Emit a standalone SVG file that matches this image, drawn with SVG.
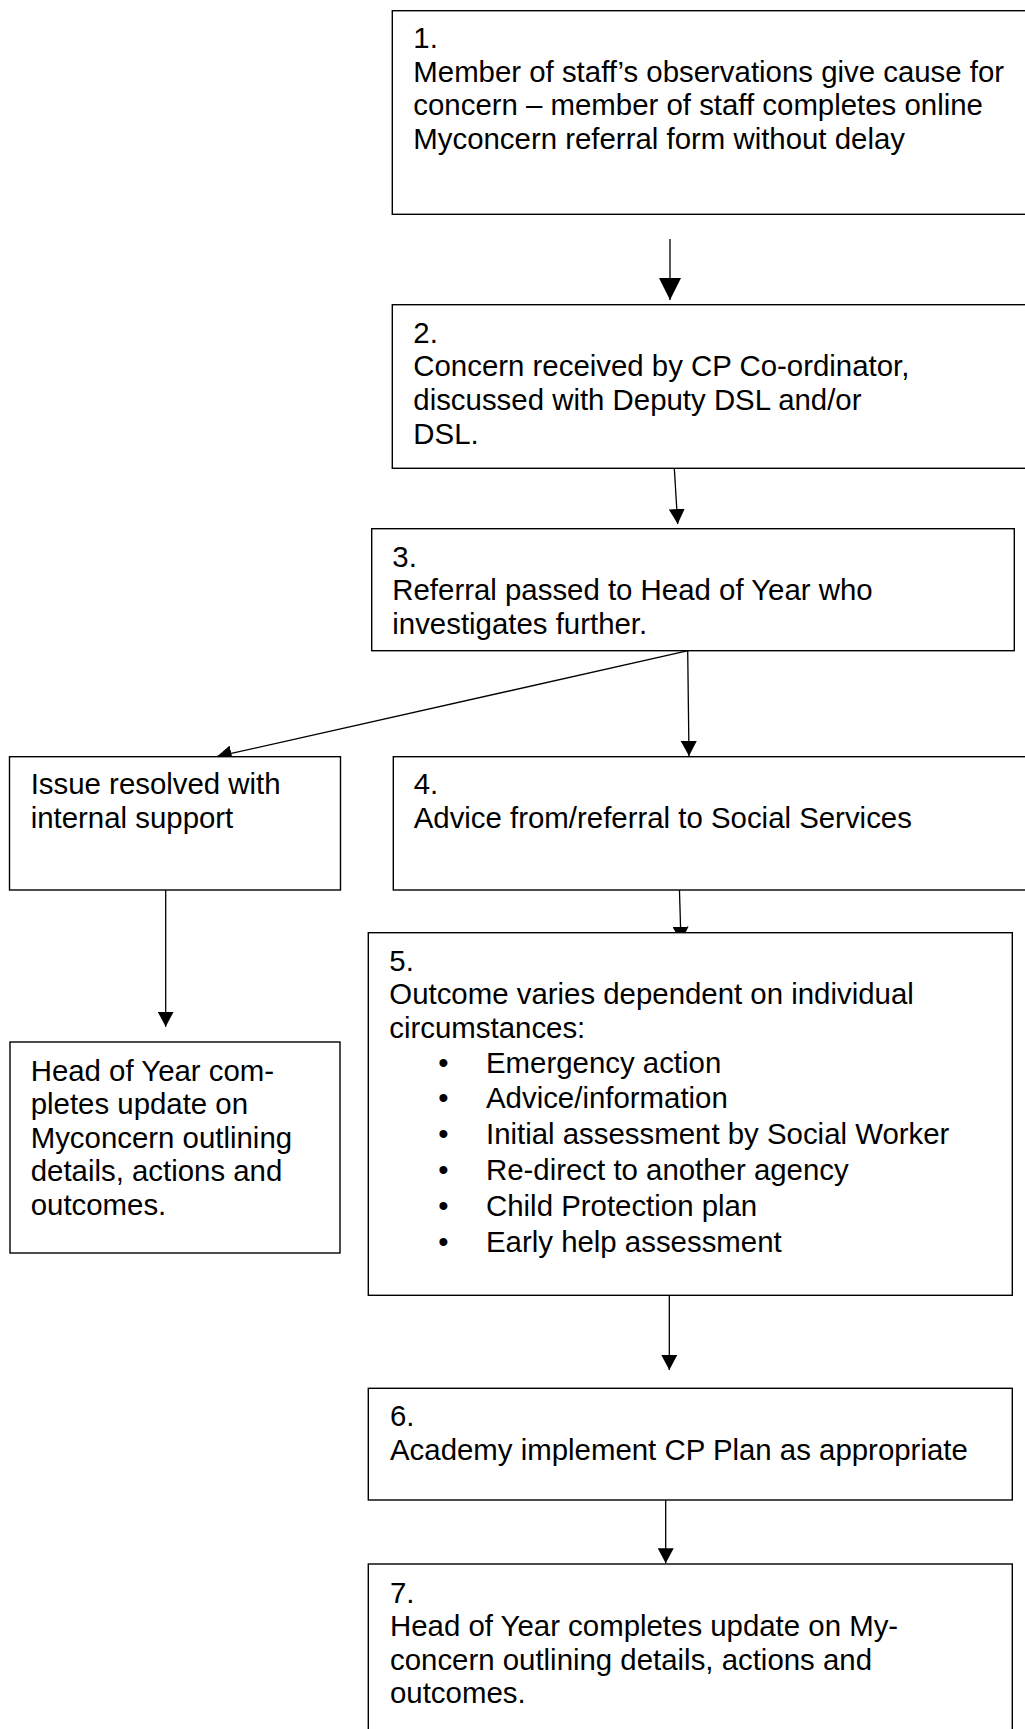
<svg xmlns="http://www.w3.org/2000/svg" width="1025" height="1729" viewBox="0 0 1025 1729">
<style>
  .box { fill: #fff; stroke: #000; stroke-width: 1.4; }
  .lbl { font-family: "Liberation Sans", Arial, sans-serif; font-size: 29.4px; fill: #000; }
  .con { stroke: #000; stroke-width: 1.3; fill: none; }
</style>
<defs>
  <marker id="ah" viewBox="0 0 15 16" refX="15" refY="8" markerWidth="15" markerHeight="16" markerUnits="userSpaceOnUse" orient="auto">
    <path d="M0,0 L15,8 L0,16 Z" fill="#000"/>
  </marker>
  <marker id="ahBig" viewBox="0 0 22 22" refX="22" refY="11" markerWidth="22" markerHeight="22" markerUnits="userSpaceOnUse" orient="auto">
    <path d="M0,0 L22,11 L0,22 Z" fill="#000"/>
  </marker>
</defs>
<rect width="1025" height="1729" fill="#fff"/>

<g id="connectors">
  <line class="con" x1="670" y1="239" x2="670" y2="300" stroke-width="1.7" marker-end="url(#ahBig)"/>
  <line class="con" x1="674.3" y1="468.3" x2="677.7" y2="524" marker-end="url(#ah)"/>
  <line class="con" x1="688.3" y1="650.7" x2="216.7" y2="756.7" marker-end="url(#ah)"/>
  <line class="con" x1="687.7" y1="650.7" x2="689" y2="756" marker-end="url(#ah)"/>
  <line class="con" x1="165.7" y1="890" x2="165.7" y2="1026.7" marker-end="url(#ah)"/>
  <line class="con" x1="679.3" y1="885" x2="681" y2="941.7" marker-end="url(#ah)"/>
  <line class="con" x1="669.3" y1="1291.7" x2="669.3" y2="1370" marker-end="url(#ah)"/>
  <line class="con" x1="665.7" y1="1500" x2="665.7" y2="1563.3" marker-end="url(#ah)"/>
</g>

<g id="node1">
  <rect class="box" x="392.3" y="10.7" width="650" height="203.6"/>
  <text class="lbl" x="413.3" y="48">1.</text>
  <text class="lbl" x="413.3" y="81.6">Member of staff’s observations give cause for</text>
  <text class="lbl" x="413.3" y="115.2">concern – member of staff completes online</text>
  <text class="lbl" x="413.3" y="148.8">Myconcern referral form without delay</text>
</g>

<g id="node2">
  <rect class="box" x="392.3" y="304.7" width="650" height="163.6"/>
  <text class="lbl" x="413.3" y="342.7">2.</text>
  <text class="lbl" x="413.3" y="376.3">Concern received by CP Co-ordinator,</text>
  <text class="lbl" x="413.3" y="409.9">discussed with Deputy DSL and/or</text>
  <text class="lbl" x="413.3" y="443.5">DSL.</text>
</g>

<g id="node3">
  <rect class="box" x="371.7" y="528.7" width="642.6" height="122"/>
  <text class="lbl" x="392.3" y="566.5">3.</text>
  <text class="lbl" x="392.3" y="600">Referral passed to Head of Year who</text>
  <text class="lbl" x="392.3" y="633.5">investigates further.</text>
</g>

<g id="nodeInternal">
  <rect class="box" x="9.5" y="756.7" width="331" height="133.3"/>
  <text class="lbl" x="30.7" y="794">Issue resolved with</text>
  <text class="lbl" x="30.7" y="827.6">internal support</text>
</g>

<g id="node4">
  <rect class="box" x="393.3" y="756.7" width="650" height="133.3"/>
  <text class="lbl" x="413.7" y="794">4.</text>
  <text class="lbl" x="413.7" y="827.6">Advice from/referral to Social Services</text>
</g>

<g id="nodeHoY">
  <rect class="box" x="10" y="1042" width="330" height="211"/>
  <text class="lbl" x="30.7" y="1080.5">Head of Year com-</text>
  <text class="lbl" x="30.7" y="1114.1">pletes update on</text>
  <text class="lbl" x="30.7" y="1147.7">Myconcern outlining</text>
  <text class="lbl" x="30.7" y="1181.3">details, actions and</text>
  <text class="lbl" x="30.7" y="1214.9">outcomes.</text>
</g>

<g id="node5">
  <rect class="box" x="368.3" y="932.7" width="644" height="362.6"/>
  <text class="lbl" x="389.3" y="970.5">5.</text>
  <text class="lbl" x="389.3" y="1004">Outcome varies dependent on individual</text>
  <text class="lbl" x="389.3" y="1037.5">circumstances:</text>
  <text class="lbl" x="443.3" y="1072.5" text-anchor="middle">•</text>
  <text class="lbl" x="486" y="1072.5">Emergency action</text>
  <text class="lbl" x="443.3" y="1108.3" text-anchor="middle">•</text>
  <text class="lbl" x="486" y="1108.3">Advice/information</text>
  <text class="lbl" x="443.3" y="1144.1" text-anchor="middle">•</text>
  <text class="lbl" x="486" y="1144.1">Initial assessment by Social Worker</text>
  <text class="lbl" x="443.3" y="1179.9" text-anchor="middle">•</text>
  <text class="lbl" x="486" y="1179.9">Re-direct to another agency</text>
  <text class="lbl" x="443.3" y="1215.7" text-anchor="middle">•</text>
  <text class="lbl" x="486" y="1215.7">Child Protection plan</text>
  <text class="lbl" x="443.3" y="1251.5" text-anchor="middle">•</text>
  <text class="lbl" x="486" y="1251.5">Early help assessment</text>
</g>

<g id="node6">
  <rect class="box" x="368.3" y="1388.3" width="644" height="111.7"/>
  <text class="lbl" x="390" y="1426">6.</text>
  <text class="lbl" x="390" y="1459.6">Academy implement CP Plan as appropriate</text>
</g>

<g id="node7">
  <rect class="box" x="368.3" y="1564" width="644" height="180"/>
  <text class="lbl" x="390" y="1602.5">7.</text>
  <text class="lbl" x="390" y="1636.1">Head of Year completes update on My-</text>
  <text class="lbl" x="390" y="1669.7">concern outlining details, actions and</text>
  <text class="lbl" x="390" y="1703.3">outcomes.</text>
</g>
</svg>
